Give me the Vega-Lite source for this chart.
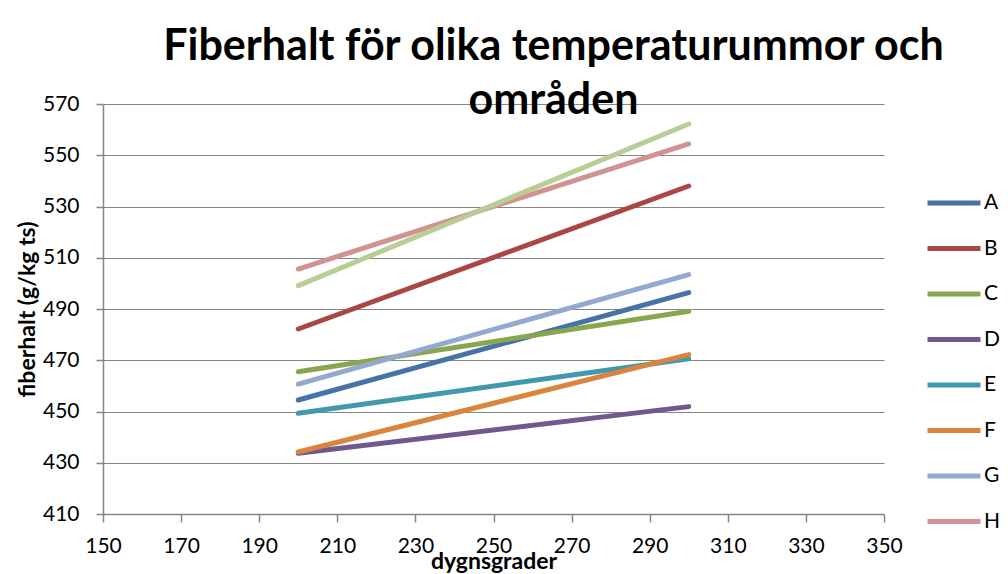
{
  "$schema": "https://vega.github.io/schema/vega-lite/v6.json",
  "width": 781,
  "height": 410,
  "autosize": "none",
  "padding": {"left": 103, "top": 104, "right": 124, "bottom": 60},
  "background": "white",
  "title": {
    "text": ["Fiberhalt för olika temperaturummor och", "områden"],
    "font": "Lato",
    "fontSize": 43,
    "fontWeight": "bold",
    "color": "#000000",
    "anchor": "middle",
    "dx": 60,
    "dy": 56,
    "baseline": "alphabetic",
    "lineHeight": 54,
    "offset": -8
  },
  "data": {
    "values": [
      {"omrade": "A", "dygnsgrader": 200, "fiberhalt": 454.5},
      {"omrade": "A", "dygnsgrader": 300, "fiberhalt": 496.4},
      {"omrade": "B", "dygnsgrader": 200, "fiberhalt": 482.2},
      {"omrade": "B", "dygnsgrader": 300, "fiberhalt": 538.0},
      {"omrade": "C", "dygnsgrader": 200, "fiberhalt": 465.5},
      {"omrade": "C", "dygnsgrader": 300, "fiberhalt": 489.1},
      {"omrade": "D", "dygnsgrader": 200, "fiberhalt": 433.7},
      {"omrade": "D", "dygnsgrader": 300, "fiberhalt": 451.9},
      {"omrade": "E", "dygnsgrader": 200, "fiberhalt": 449.3},
      {"omrade": "E", "dygnsgrader": 300, "fiberhalt": 470.6},
      {"omrade": "F", "dygnsgrader": 200, "fiberhalt": 434.2},
      {"omrade": "F", "dygnsgrader": 300, "fiberhalt": 472.2},
      {"omrade": "G", "dygnsgrader": 200, "fiberhalt": 460.7},
      {"omrade": "G", "dygnsgrader": 300, "fiberhalt": 503.4},
      {"omrade": "H", "dygnsgrader": 200, "fiberhalt": 505.6},
      {"omrade": "H", "dygnsgrader": 300, "fiberhalt": 554.4},
      {"omrade": "I", "dygnsgrader": 200, "fiberhalt": 499.1},
      {"omrade": "I", "dygnsgrader": 300, "fiberhalt": 562.2}
    ]
  },
  "mark": {"type": "line", "strokeWidth": 5, "strokeCap": "round", "clip": false},
  "encoding": {
    "x": {
      "field": "dygnsgrader",
      "type": "quantitative",
      "scale": {"domain": [150, 350], "nice": false, "zero": false},
      "axis": {
        "title": "dygnsgrader",
        "values": [150, 170, 190, 210, 230, 250, 270, 290, 310, 330, 350],
        "grid": false,
        "domainColor": "#868686",
        "domainWidth": 1.5,
        "tickColor": "#868686",
        "tickWidth": 1.5,
        "tickSize": 8,
        "labelFont": "Lato",
        "labelFontSize": 21,
        "labelColor": "#000000",
        "labelPadding": 13,
        "labelFlush": false,
        "titleFont": "Lato",
        "titleFontSize": 23,
        "titleFontWeight": "bold",
        "titleColor": "#000000",
        "titlePadding": -6
      }
    },
    "y": {
      "field": "fiberhalt",
      "type": "quantitative",
      "scale": {"domain": [410, 570], "nice": false, "zero": false},
      "axis": {
        "title": "fiberhalt (g/kg ts)",
        "values": [410, 430, 450, 470, 490, 510, 530, 550, 570],
        "grid": true,
        "gridColor": "#868686",
        "gridWidth": 1.2,
        "domainColor": "#868686",
        "domainWidth": 1.5,
        "tickColor": "#868686",
        "tickWidth": 1.5,
        "tickSize": 7,
        "labelFont": "Lato",
        "labelFontSize": 21,
        "labelColor": "#000000",
        "labelPadding": 17,
        "labelFlush": false,
        "titleFont": "Lato",
        "titleFontSize": 23,
        "titleFontWeight": "bold",
        "titleColor": "#000000",
        "titlePadding": 3
      }
    },
    "color": {
      "field": "omrade",
      "type": "nominal",
      "scale": {
        "domain": ["A", "B", "C", "D", "E", "F", "G", "H", "I"],
        "range": ["#4572A7", "#AA4643", "#89A54E", "#71588F", "#4198AF", "#DB843D", "#93A9CF", "#D19392", "#B9CD96"]
      },
      "legend": {
        "title": null,
        "values": ["A", "B", "C", "D", "E", "F", "G", "H"],
        "orient": "none",
        "legendX": 822,
        "legendY": 70,
        "symbolType": "stroke",
        "symbolSize": 2809,
        "symbolStrokeWidth": 5,
        "labelFont": "Lato",
        "labelFontSize": 21,
        "labelColor": "#000000",
        "labelOffset": 1,
        "rowPadding": 6.5
      }
    }
  },
  "config": {"view": {"stroke": null}}
}
